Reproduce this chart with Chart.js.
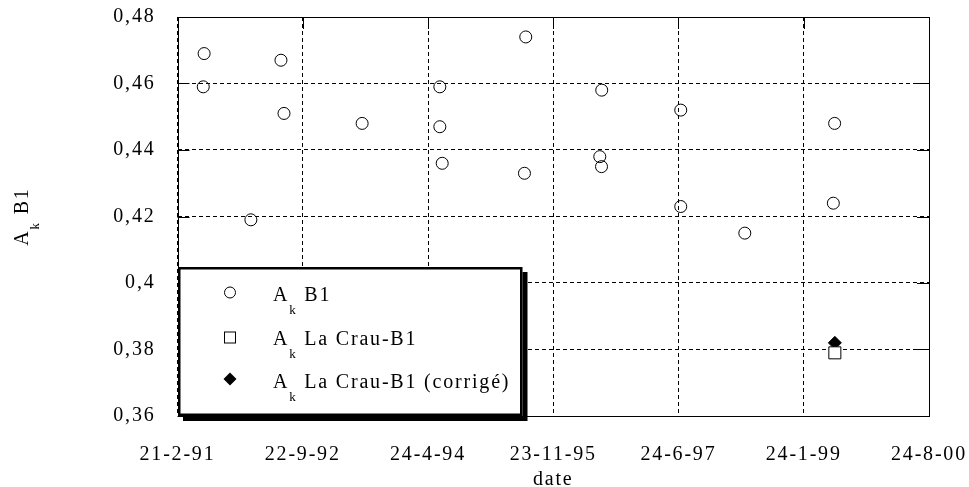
<!DOCTYPE html>
<html>
<head>
<meta charset="utf-8">
<script src="https://cdn.jsdelivr.net/npm/chart.js@4.4.1/dist/chart.umd.min.js"></script>
<style>
  html, body { margin: 0; padding: 0; background: #fff; }
  canvas { display: block; }
</style>
</head>
<body>
<canvas id="c" width="969" height="487"></canvas>
<script>
// ---------------- data ----------------
const axisStart = '1991-02-21';
const axisEnd = '2000-08-24';
const xTickLabels = ['21-2-91', '22-9-92', '24-4-94', '23-11-95', '24-6-97', '24-1-99', '24-8-00'];
const yTickValues = [0.36, 0.38, 0.40, 0.42, 0.44, 0.46, 0.48];
const xTitle = 'date';
const yTitle = 'A_k B1';
const seriesNames = ['A_k B1', 'A_k La Crau-B1', 'A_k La Crau-B1 (corrigé)'];

const b1Dates = ['1991-06-24', '1991-06-20', '1992-06-13', '1992-06-27', '1992-01-26',
                 '1993-06-23', '1994-06-17', '1994-06-17', '1994-06-28', '1995-07-19',
                 '1995-07-13', '1996-07-04', '1996-06-25', '1996-07-03', '1997-07-04',
                 '1997-07-04', '1998-04-26', '1999-06-15', '1999-06-09'];
const b1Values = [0.469, 0.459, 0.467, 0.451, 0.419,
                  0.448, 0.459, 0.447, 0.436, 0.474,
                  0.433, 0.458, 0.438, 0.435, 0.452,
                  0.423, 0.415, 0.448, 0.424];
const crauDates = ['1999-06-16'];
const crauValues = [0.379];
const crauCorrDates = ['1999-06-16'];
const crauCorrValues = [0.382];

// ---------------- helpers ----------------
const dayOf = s => { const p = s.split('-').map(Number); return Date.UTC(p[0], p[1] - 1, p[2]) / 86400000; };
const toPoints = (dates, vals) => dates.map((d, i) => ({ x: dayOf(d), y: vals[i] }));
const FONT = 'Liberation Serif, Times New Roman, serif';
const SPACING = '1.8px';

function splitSub(label) {
  const m = label.match(/^(.*?)_(\S)(.*)$/);
  return m ? [m[1], m[2], m[3]] : [label, '', ''];
}
function subTextWidth(ctx, label, size, subSize) {
  const [a, k, r] = splitSub(label);
  ctx.font = size + 'px ' + FONT; const wa = ctx.measureText(a).width; const wr = ctx.measureText(r).width;
  ctx.font = subSize + 'px ' + FONT; const wk = ctx.measureText(k).width;
  return wa + wk + wr;
}
function drawSubText(ctx, label, x, y, size, subSize, subDrop) {
  const [a, k, r] = splitSub(label);
  ctx.textAlign = 'left'; ctx.textBaseline = 'alphabetic';
  ctx.font = size + 'px ' + FONT; ctx.fillText(a, x, y); let cx = x + ctx.measureText(a).width;
  ctx.font = subSize + 'px ' + FONT; ctx.fillText(k, cx, y + subDrop); cx += ctx.measureText(k).width;
  ctx.font = size + 'px ' + FONT; ctx.fillText(r, cx, y);
}

const spacingPlugin = {
  id: 'spacing',
  beforeLayout(chart) { chart.ctx.letterSpacing = SPACING; },
  beforeDraw(chart) { chart.ctx.letterSpacing = SPACING; }
};

const decorPlugin = {
  id: 'decor',
  afterDraw(chart) {
    const ctx = chart.ctx;
    const ca = chart.chartArea;
    const ys = chart.scales.y, xs = chart.scales.x;
    ctx.save();
    ctx.letterSpacing = SPACING;
    ctx.strokeStyle = '#000';
    ctx.lineWidth = 1;
    ctx.setLineDash([]);
    // inside tick marks
    ys.ticks.forEach(t => {
      const py = Math.round(ys.getPixelForValue(t.value)) + 0.5;
      ctx.beginPath();
      ctx.moveTo(ca.left, py); ctx.lineTo(ca.left + 12, py);
      ctx.moveTo(ca.right - 12, py); ctx.lineTo(ca.right, py);
      ctx.stroke();
    });
    xs.ticks.forEach(t => {
      const px = Math.round(xs.getPixelForValue(t.value)) + 0.5;
      ctx.beginPath();
      ctx.moveTo(px, ca.top); ctx.lineTo(px, ca.top + 12);
      ctx.stroke();
    });
    // frame
    ctx.strokeRect(Math.round(ca.left) + 0.5, Math.round(ca.top) + 0.5,
                   Math.round(ca.right) - Math.round(ca.left), Math.round(ca.bottom) - Math.round(ca.top));

    // y title (rotated)
    ctx.fillStyle = '#000';
    const tw = subTextWidth(ctx, yTitle, 20, 13);
    ctx.save();
    ctx.translate(28, (ca.top + ca.bottom) / 2 + tw / 2);
    ctx.rotate(-Math.PI / 2);
    drawSubText(ctx, yTitle, 0, 0, 20, 13, 11);
    ctx.restore();

    // legend box
    const L = 178, T = 267, W = 344.5, H = 149, SH = 5;
    ctx.fillStyle = '#000';
    ctx.fillRect(L + SH, T + SH, W, H);
    ctx.fillStyle = '#fff';
    ctx.fillRect(L, T, W, H);
    ctx.lineWidth = 2.5;
    ctx.strokeStyle = '#000';
    ctx.strokeRect(L + 1.25, T + 1.25, W - 2.5, H - 2.5);

    const rowSym = [292.5, 337.5, 379];
    const rowBase = [301, 344.5, 388];
    const symX = 230, textX = 273;
    ctx.lineWidth = 1;
    ctx.beginPath(); ctx.arc(symX, rowSym[0], 5.5, 0, Math.PI * 2); ctx.stroke();
    ctx.strokeRect(symX - 6 + 0.5, rowSym[1] - 6 + 0.5, 11, 11);
    ctx.fillStyle = '#000';
    ctx.beginPath();
    ctx.moveTo(symX, rowSym[2] - 6.5); ctx.lineTo(symX + 6.5, rowSym[2]);
    ctx.lineTo(symX, rowSym[2] + 6.5); ctx.lineTo(symX - 6.5, rowSym[2]);
    ctx.closePath(); ctx.fill();

    ctx.fillStyle = '#000';
    seriesNames.forEach((n, i) => drawSubText(ctx, n, textX, rowBase[i], 20, 13, 13));
    ctx.restore();
  }
};

const xMin = dayOf(axisStart), xMax = dayOf(axisEnd);

new Chart(document.getElementById('c'), {
  type: 'scatter',
  data: {
    datasets: [
      { label: seriesNames[0], data: toPoints(b1Dates, b1Values), pointStyle: 'circle', pointRadius: 6,
        borderColor: '#000', backgroundColor: 'rgba(0,0,0,0)', borderWidth: 1 },
      { label: seriesNames[1], data: toPoints(crauDates, crauValues), pointStyle: 'rect', pointRadius: 8.5,
        borderColor: '#000', backgroundColor: '#fff', borderWidth: 1 },
      { label: seriesNames[2], data: toPoints(crauCorrDates, crauCorrValues), pointStyle: 'rectRot', pointRadius: 6.5,
        borderColor: '#000', backgroundColor: '#000', borderWidth: 1 }
    ]
  },
  options: {
    responsive: false,
    animation: false,
    devicePixelRatio: 1,
    layout: { padding: { left: 0, right: 40, top: 17, bottom: 0 } },
    plugins: { legend: { display: false }, tooltip: { enabled: false }, title: { display: false } },
    scales: {
      x: {
        type: 'linear',
        min: xMin, max: xMax,
        afterBuildTicks: s => { s.ticks = xTickLabels.map((_, i) => ({ value: xMin + i * (xMax - xMin) / (xTickLabels.length - 1) })); },
        afterFit: s => { s.height = 71; s.paddingLeft = 0; s.paddingRight = 0; s.paddingTop = 0; s.paddingBottom = 0; },
        ticks: { color: '#000', font: { family: FONT, size: 20 }, padding: 27, maxRotation: 0, autoSkip: false,
                 callback: (v, i) => xTickLabels[i] },
        grid: { color: '#000', lineWidth: 1, drawTicks: false },
        border: { display: false, dash: [4, 3] },
        title: { display: true, text: xTitle, color: '#000', font: { family: FONT, size: 20, lineHeight: 0.7 }, padding: { top: 0, bottom: 0 } }
      },
      y: {
        min: 0.36, max: 0.48,
        afterBuildTicks: s => { s.ticks = yTickValues.map(v => ({ value: v })); },
        afterFit: s => { s.width = 177.5; s.paddingLeft = 0; s.paddingRight = 0; s.paddingTop = 0; s.paddingBottom = 0; },
        ticks: { color: '#000', font: { family: FONT, size: 20 }, padding: 22,
                 callback: v => String(+v.toFixed(2)).replace('.', ',') },
        grid: { color: '#000', lineWidth: 1, drawTicks: false },
        border: { display: false, dash: [4, 3] }
      }
    }
  },
  plugins: [spacingPlugin, decorPlugin]
});
</script>
</body>
</html>
